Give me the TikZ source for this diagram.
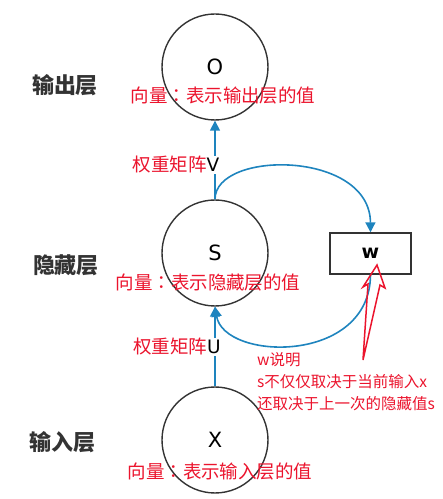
\documentclass[tikz,border=0pt]{standalone}
\usepackage{fontspec}
\setmainfont{Noto Sans CJK SC}
\newfontfamily\latinfont{DejaVu Sans}
\newfontfamily\tcfont{Noto Sans CJK TC}
\newcommand{\fullcolon}{{\tcfont ：}}
\usetikzlibrary{arrows.meta}
\definecolor{linkblue}{RGB}{30,132,190}
\definecolor{notered}{RGB}{235,20,45}
\definecolor{darkline}{RGB}{51,51,51}

\begin{document}
\begin{tikzpicture}[
    x=1pt,
    y=1pt,
    layer/.style={
        circle,
        draw=darkline,
        line width=1.4pt,
        minimum size=106pt,
        inner sep=0pt,
        font=\latinfont\fontsize{21}{24}\selectfont
    },
    weightbox/.style={
        rectangle,
        draw=darkline,
        line width=1.4pt,
        minimum width=81pt,
        minimum height=41pt,
        font=\latinfont\fontsize{19}{24}\selectfont\bfseries
    },
    flow/.style={
        -{Triangle[length=10pt,width=10pt]},
        draw=linkblue,
        line width=1.6pt
    },
    layername/.style={
        text=darkline,
        font=\fontsize{22}{24}\selectfont\bfseries
    },
    note/.style={
        text=notered,
        inner sep=0.5pt,
        font=\fontsize{18.5}{22}\selectfont
    },
    remark/.style={
        text=notered,
        inner sep=0pt,
        align=left,
        font=\fontsize{15.5}{22}\selectfont
    }
]
\useasboundingbox (0,0) rectangle (443,499);

% Layers
\node [layer] (O) at (215,432) {O};
\node [layer] (S) at (215,246) {S};
\node [layer] (X) at (215,59) {X};
\node [weightbox] (w) at (370.5,245.5) {w};

% Layer names
\node [layername] (outname) at (65,414) {输出层};
\node [layername] (hidname) at (66,234) {隐藏层};
\node [layername] (inname) at (63,57) {输入层};

% Connections
\draw [flow] (S.north) -- (O.south);
\draw [flow] (X.north) -- (S.south);
\draw [flow] (S.north) .. controls (215,349) and (370,349) .. (w.north);
\draw [flow] (w.south) .. controls (370,134) and (224,138) .. (S.south);

% Annotations
\node [note, fill=white] (vlabel) at (176,334) {权重矩阵{\color{black}\latinfont V}};
\node [note, fill=white] (ulabel) at (177,152) {权重矩阵{\color{black}\latinfont U}};
\node [note] (onote) at (223,403) {向量\fullcolon 表示输出层的值};
\node [note] (snote) at (208,216) {向量\fullcolon 表示隐藏层的值};
\node [note] (xnote) at (220,27) {向量\fullcolon 表示输入层的值};
\node [remark, anchor=north west] (wnote) at (257,147) {w说明\\s不仅仅取决于当前输入x\\还取决于上一次的隐藏值s};

% Red pointer to w
\coordinate (tail) at (363,139);
\coordinate (tip) at (377,234);
\draw [notered, line width=1.5pt, line join=miter]
    (tail) -- (368,215) -- (363,212) -- (tip) -- (385,211) -- (380,214) -- cycle;

\end{tikzpicture}
\end{document}
